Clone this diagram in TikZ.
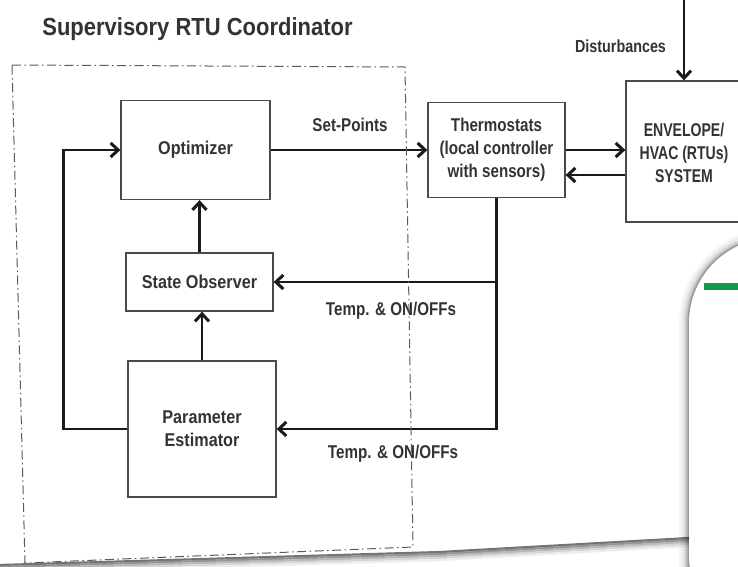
\documentclass[tikz,border=0pt]{standalone}
\usepackage{fontspec}
\usepackage{graphicx}
\setmainfont{Liberation Sans}
\usetikzlibrary{arrows.meta,calc}

\definecolor{ink}{HTML}{1A1A1A}
\definecolor{txt}{HTML}{333333}
\definecolor{edge}{HTML}{4A4A4A}
\definecolor{frame}{HTML}{5A5A5A}
\definecolor{cardgreen}{HTML}{0E9A4C}

% condensed bold sans at three widths
\newcommand{\nrw}[1]{\scalebox{0.82}[1]{#1}}
\newcommand{\wdr}[1]{\scalebox{0.875}[1]{#1}}
\newcommand{\tgt}[1]{\scalebox{0.76}[1]{#1}}

\tikzset{
  blk/.style={draw=edge, line width=1.3pt, fill=white, inner sep=0pt, align=center,
              text=txt, font=\fontsize{18.5}{23}\selectfont\bfseries},
  lbl/.style={inner sep=0pt, text=txt, font=\fontsize{18.5}{21}\selectfont\bfseries},
  flow/.style={draw=ink, line width=2.4pt,
               -{Straight Barb[length=7.5pt,width=14pt,line width=3pt]}},
  zone/.style={draw=frame, line width=1pt, dash pattern=on 9pt off 3.5pt on 1.5pt off 3.5pt},
}

\begin{document}
\begin{tikzpicture}[x=1pt,y=-1pt]
\useasboundingbox (0,0) rectangle (738,566);
\fill[white] (0,0) rectangle (738,566);

% title
\node[lbl, anchor=base, font=\fontsize{24.7}{28}\selectfont\bfseries] (title) at (197.5,35)
  {\scalebox{0.89}[1]{Supervisory RTU Coordinator}};

% blocks
\node[blk, minimum width=149pt, minimum height=99pt] (opt) at (195.5,150) {\wdr{Optimizer}};
\node[blk, minimum width=147pt, minimum height=58pt] (obs) at (199.5,282) {\wdr{State Observer}};
\node[blk, minimum width=148pt, minimum height=136pt] (est) at (202,429) {\wdr{Parameter}\\\wdr{Estimator}};
\node[blk, minimum width=137pt, minimum height=95pt] (thermo) at (496.5,150)
  {\nrw{Thermostats}\\\nrw{(local controller}\\\nrw{with sensors)}};
\node[blk, minimum width=134pt, minimum height=141pt] (env) at (693,151.5) {};
\node[lbl, align=center, font=\fontsize{18.5}{23}\selectfont\bfseries] (envtxt) at (684,153)
  {\tgt{ENVELOPE/}\\\tgt{HVAC (RTUs)}\\\tgt{SYSTEM}};

% signal labels
\node[lbl, anchor=base] (sp) at (350,131) {\nrw{Set-Points}};
\node[lbl, anchor=base] (tmp1) at (391,315) {\nrw{Temp. \& ON/OFFs}};
\node[lbl, anchor=base] (tmp2) at (393,458) {\nrw{Temp. \& ON/OFFs}};
\node[lbl, anchor=base, font=\fontsize{17.5}{20}\selectfont\bfseries] (distlbl) at (620.5,52) {\nrw{Disturbances}};

% forward path
\draw[flow] (opt.east) -- (thermo.west);
\draw[flow] (thermo.east) -- (thermo.east -| env.west);
\coordinate (back) at ($(env.west)+(0,23.5)$);
\draw[flow] (back) -- (back -| thermo.east);
\coordinate (dist) at (684,0);
\draw[flow] (dist) -- (dist |- env.north);

% measurements fed back
\draw[flow] (thermo.south) |- (obs.east);
\draw[flow] (thermo.south) |- (est.east);

% internal flow
\draw[flow] (obs.north) -- (obs.north |- opt.south);
\draw[flow] (est.north) -- (est.north |- obs.south);
\draw[flow] (est.west) -- ++(-64,0) |- (opt.west);

% coordinator boundary
\draw[zone] (12,65) -- (405,67) -- (413,547) -- (25,563) -- cycle;

% page edge
\foreach \d/\c in {0/55,2/42,4/28,6/16,8/7}
  \draw[black!\c, line width=2.2pt] (0,565+\d) -- (440,552+\d) -- (689,538+\d);

% overlapping card
\foreach \w/\o in {20/0.03,15/0.05,10/0.08,6/0.12,3/0.18}
  \draw[black, opacity=\o, line width=\w pt, rounded corners=85pt]
    (689,640) -- (689,238) -- (830,238);
\fill[white, rounded corners=85pt] (689,640) -- (689,238) -- (830,238) -- (830,640) -- cycle;
\fill[cardgreen] (704,283) rectangle (738,290);
\end{tikzpicture}
\end{document}
